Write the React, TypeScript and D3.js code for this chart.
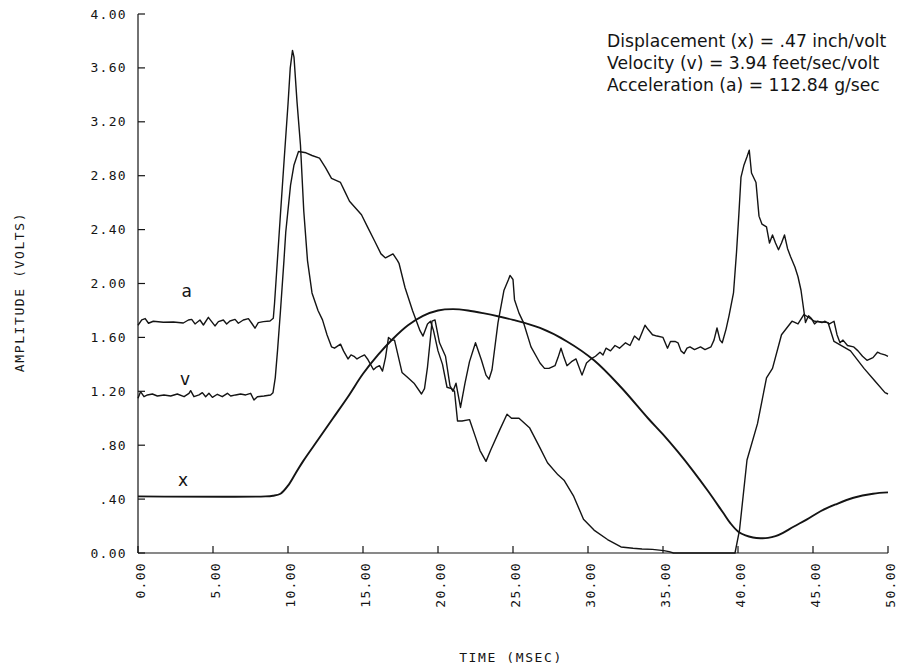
import React from 'react';
import * as d3 from 'd3';

const W = 897;
const H = 669;

// axis domains & ticks
const TIME_DOMAIN: [number, number] = [0, 50];
const VOLT_DOMAIN: [number, number] = [0, 4];
const TIME_TICKS = [0, 5, 10, 15, 20, 25, 30, 35, 40, 45, 50];
const TIME_TICK_LABELS = ['0.00', '5.00', '10.00', '15.00', '20.00', '25.00', '30.00', '35.00', '40.00', '45.00', '50.00'];
const VOLT_TICKS = [0, 0.4, 0.8, 1.2, 1.6, 2.0, 2.4, 2.8, 3.2, 3.6, 4.0];
const VOLT_TICK_LABELS = ['0.00', '.40', '.80', '1.20', '1.60', '2.00', '2.40', '2.80', '3.20', '3.60', '4.00'];

// acceleration trace (time msec, volts)
const accel: [number, number][] = [
  [0, 1.69], [0.25, 1.73], [0.48, 1.74], [0.7, 1.705], [1.02, 1.72], [1.69, 1.712], [2.36, 1.714], [3.02, 1.707],
  [3.36, 1.729], [3.58, 1.734], [3.8, 1.70], [4.13, 1.729], [4.36, 1.692], [4.69, 1.749], [4.91, 1.717], [5.13, 1.685],
  [5.36, 1.717], [5.69, 1.729], [5.91, 1.70], [6.13, 1.722], [6.47, 1.734], [6.69, 1.705], [7.02, 1.729], [7.36, 1.739],
  [7.58, 1.705], [7.8, 1.668], [8.02, 1.71], [8.36, 1.717], [8.8, 1.722], [9.02, 1.742],
  [9.1, 1.85], [9.25, 2.1], [9.5, 2.52], [9.75, 2.93], [10.0, 3.33], [10.15, 3.6], [10.3, 3.73], [10.4, 3.68],
  [10.6, 3.35], [10.83, 3.03], [11.05, 2.54], [11.3, 2.17], [11.6, 1.93], [12.0, 1.8], [12.3, 1.73], [12.6, 1.62],
  [12.9, 1.53], [13.1, 1.52], [13.5, 1.55], [13.7, 1.5], [14.0, 1.44], [14.2, 1.47], [14.4, 1.46], [14.6, 1.44],
  [14.9, 1.46], [15.1, 1.47], [15.3, 1.44], [15.7, 1.36], [15.9, 1.38], [16.1, 1.39], [16.3, 1.35], [16.5, 1.45],
  [16.7, 1.6], [16.9, 1.58], [17.1, 1.58], [17.6, 1.34], [18.0, 1.3], [18.4, 1.26], [18.9, 1.18], [19.1, 1.22],
  [19.3, 1.38], [19.5, 1.6], [19.6, 1.72], [19.8, 1.73], [20.1, 1.56], [20.5, 1.46], [20.8, 1.24], [21.0, 1.2],
  [21.2, 1.26], [21.5, 1.08], [21.8, 1.26], [22.1, 1.42], [22.5, 1.56], [22.9, 1.43], [23.2, 1.32], [23.4, 1.29],
  [23.6, 1.36], [24.0, 1.71], [24.4, 1.95], [24.7, 2.03], [24.8, 2.06], [25.0, 2.03], [25.1, 1.88], [25.4, 1.78],
  [25.7, 1.71], [26.2, 1.53], [26.8, 1.41], [27.1, 1.37], [27.4, 1.37], [27.8, 1.39], [28.0, 1.45], [28.2, 1.52],
  [28.4, 1.45], [28.6, 1.39], [28.9, 1.42], [29.2, 1.44], [29.6, 1.32], [29.9, 1.41], [30.2, 1.44], [30.5, 1.46],
  [30.8, 1.49], [31.0, 1.47], [31.2, 1.52], [31.5, 1.5], [31.8, 1.54], [32.1, 1.52], [32.5, 1.56], [32.8, 1.54],
  [33.1, 1.61], [33.4, 1.58], [33.8, 1.69], [34.0, 1.66], [34.3, 1.62], [34.6, 1.61], [35.0, 1.6], [35.3, 1.52],
  [35.5, 1.57], [35.8, 1.57], [36.0, 1.56], [36.2, 1.5], [36.4, 1.48], [36.6, 1.52], [36.8, 1.53], [37.1, 1.51],
  [37.5, 1.53], [37.8, 1.51], [38.2, 1.53], [38.4, 1.58], [38.6, 1.67], [38.8, 1.58], [38.95, 1.56], [39.2, 1.66],
  [39.4, 1.76], [39.7, 1.93], [39.9, 2.23], [40.05, 2.5], [40.2, 2.79], [40.4, 2.88], [40.6, 2.94], [40.75, 2.99],
  [40.9, 2.82], [41.2, 2.75], [41.4, 2.5], [41.6, 2.44], [41.9, 2.42], [42.1, 2.3], [42.3, 2.36], [42.5, 2.3],
  [42.7, 2.25], [42.9, 2.3], [43.1, 2.36], [43.3, 2.26], [43.5, 2.2], [43.8, 2.12], [44.0, 2.05], [44.2, 1.95],
  [44.5, 1.71], [44.7, 1.76], [44.9, 1.74], [45.1, 1.7], [45.3, 1.72], [45.6, 1.71], [45.8, 1.72], [46.1, 1.7],
  [46.4, 1.72], [46.6, 1.62], [46.8, 1.56], [47.0, 1.58], [47.3, 1.54], [47.7, 1.53], [48.0, 1.5], [48.3, 1.46],
  [48.6, 1.43], [49.0, 1.45], [49.3, 1.49], [49.5, 1.48], [49.8, 1.47], [50.0, 1.46],
];

// velocity trace (time msec, volts)
const veloc: [number, number][] = [
  [0, 1.148], [0.17, 1.197], [0.4, 1.16], [0.63, 1.173], [0.96, 1.18], [1.29, 1.165], [1.73, 1.173], [2.18, 1.165],
  [2.62, 1.18], [3.07, 1.16], [3.4, 1.185], [3.51, 1.205], [3.73, 1.16], [4.07, 1.173], [4.29, 1.19], [4.51, 1.16],
  [4.73, 1.185], [4.96, 1.155], [5.29, 1.178], [5.62, 1.16], [5.96, 1.185], [6.18, 1.165], [6.51, 1.173], [6.84, 1.18],
  [7.18, 1.173], [7.51, 1.185], [7.73, 1.135], [7.96, 1.16], [8.4, 1.165], [8.84, 1.173], [9.0, 1.19],
  [9.15, 1.3], [9.3, 1.5], [9.5, 1.8], [9.73, 2.17], [9.85, 2.38], [10.17, 2.73], [10.4, 2.88], [10.7, 2.98],
  [11.2, 2.97], [11.6, 2.95], [12.1, 2.93], [12.5, 2.86], [12.9, 2.78], [13.5, 2.75], [13.8, 2.68], [14.1, 2.61],
  [14.5, 2.56], [14.9, 2.51], [15.3, 2.42], [15.8, 2.31], [16.2, 2.22], [16.5, 2.19], [17.0, 2.22], [17.3, 2.17],
  [17.4, 2.15], [17.8, 1.97], [18.3, 1.8], [18.8, 1.65], [19.0, 1.61], [19.3, 1.7], [19.5, 1.72], [19.7, 1.65],
  [20.0, 1.5], [20.3, 1.4], [20.6, 1.23], [20.9, 1.22], [21.1, 1.2], [21.3, 0.98], [21.6, 0.98], [22.1, 0.99],
  [22.5, 0.86], [22.8, 0.76], [23.2, 0.68], [23.5, 0.76], [24.1, 0.91], [24.6, 1.03], [24.9, 1.0], [25.4, 1.0],
  [26.1, 0.93], [26.8, 0.78], [27.3, 0.67], [28.0, 0.58], [28.4, 0.54], [29.05, 0.42], [29.7, 0.25], [30.4, 0.17],
  [31.3, 0.1], [32.2, 0.045], [33.0, 0.035], [33.6, 0.03], [34.3, 0.027], [35.05, 0.018], [35.4, 0.01], [35.7, 0.0],
  [39.8, 0.0], [40.1, 0.17], [40.6, 0.69], [41.3, 0.96], [41.9, 1.3], [42.3, 1.37], [42.9, 1.62], [43.6, 1.72],
  [44.0, 1.7], [44.4, 1.77], [45.1, 1.72], [46.0, 1.71], [46.4, 1.57], [47.5, 1.5], [48.4, 1.37], [49.1, 1.28],
  [49.8, 1.19], [50.0, 1.18],
];

// displacement trace (time msec, volts)
const displ: [number, number][] = [
  [0, 0.42], [8.5, 0.42], [9.0, 0.425], [9.5, 0.44], [10.0, 0.5], [10.5, 0.59], [11.0, 0.68], [12.0, 0.84],
  [13.0, 1.0], [14.0, 1.16], [15.0, 1.33], [16.0, 1.47], [17.0, 1.59], [18.0, 1.69], [19.0, 1.76], [20.0, 1.8],
  [21.0, 1.81], [22.0, 1.8], [23.0, 1.78], [25.0, 1.73], [26.8, 1.67], [28.6, 1.57], [30.4, 1.43], [32.2, 1.23],
  [34.0, 1.0], [35.0, 0.88], [36.0, 0.75], [37.0, 0.61], [38.0, 0.46], [39.0, 0.3], [39.5, 0.22], [40.0, 0.16],
  [40.5, 0.13], [41.0, 0.115], [41.5, 0.11], [42.0, 0.112], [42.5, 0.125], [43.0, 0.15], [43.7, 0.195], [44.6, 0.25],
  [45.5, 0.31], [46.5, 0.36], [47.7, 0.41], [49.0, 0.44], [50.0, 0.45],
];

const SERIES_NAMES = ['a', 'v', 'x'];
const LABEL_TIMES = [3.25, 3.13, 3.0];
const LABEL_VOLTS = [1.9, 1.247, 0.497];

const NOTE_LINES = [
  'Displacement (x) = .47 inch/volt',
  'Velocity (v) = 3.94 feet/sec/volt',
  'Acceleration (a) = 112.84 g/sec',
];

const X_TITLE = 'TIME (MSEC)';
const Y_TITLE = 'AMPLITUDE (VOLTS)';

export default function App() {
  const x = d3.scaleLinear().domain(TIME_DOMAIN).range([138, 888]);
  const y = d3.scaleLinear().domain(VOLT_DOMAIN).range([553, 14]);

  const line = d3
    .line<[number, number]>()
    .x((d) => x(d[0]))
    .y((d) => y(d[1]))
    .curve(d3.curveLinear);
  const smooth = d3
    .line<[number, number]>()
    .x((d) => x(d[0]))
    .y((d) => y(d[1]))
    .curve(d3.curveCatmullRom.alpha(0.5));

  const ink = '#141414';
  const mono = '"DejaVu Sans Mono", monospace';
  const sans = '"DejaVu Sans", sans-serif';

  const traces = [accel, veloc, displ];

  return (
    <svg
      width={W}
      height={H}
      viewBox={`0 0 ${W} ${H}`}
      style={{ position: 'absolute', left: 0, top: 0, background: '#fff', display: 'block' }}
    >
      <rect x={0} y={0} width={W} height={H} fill="#fff" />
      {/* axes */}
      <line x1={x(0)} y1={y(4)} x2={x(0)} y2={y(0)} stroke={ink} strokeWidth={1.2} />
      <line x1={x(0)} y1={y(0)} x2={x(50)} y2={y(0)} stroke={ink} strokeWidth={1.2} />
      {VOLT_TICKS.map((v, i) => (
        <g key={'yt' + i}>
          <line x1={x(0)} x2={x(0) + 7} y1={y(v)} y2={y(v)} stroke={ink} strokeWidth={1.2} />
          <text
            x={127}
            y={y(v)}
            textAnchor="end"
            dominantBaseline="central"
            fontFamily={mono}
            fontSize={13}
            letterSpacing={1.3}
            fill={ink}
          >
            {VOLT_TICK_LABELS[i]}
          </text>
        </g>
      ))}
      {TIME_TICKS.map((t, i) => (
        <g key={'xt' + i}>
          <line x1={x(t)} x2={x(t)} y1={y(0)} y2={y(0) - 7} stroke={ink} strokeWidth={1.2} />
          <text
            transform={`translate(${x(t) + 2},${y(0) + 9}) rotate(-90)`}
            textAnchor="end"
            dominantBaseline="central"
            fontFamily={mono}
            fontSize={13}
            letterSpacing={1.3}
            fill={ink}
          >
            {TIME_TICK_LABELS[i]}
          </text>
        </g>
      ))}
      <text
        x={511}
        y={662}
        textAnchor="middle"
        fontFamily={mono}
        fontSize={13}
        letterSpacing={1.6}
        fill={ink}
      >
        {X_TITLE}
      </text>
      <text
        transform={`translate(19,292) rotate(-90)`}
        textAnchor="middle"
        dominantBaseline="central"
        fontFamily={mono}
        fontSize={13}
        letterSpacing={1.6}
        fill={ink}
      >
        {Y_TITLE}
      </text>

      {/* traces */}
      {traces.map((d, i) => (
        <path
          key={'tr' + i}
          d={(i === 2 ? smooth(d) : line(d)) || ''}
          fill="none"
          stroke={ink}
          strokeWidth={i === 2 ? 1.9 : 1.4}
          strokeLinejoin="round"
        />
      ))}

      {/* curve labels */}
      {SERIES_NAMES.map((s, i) => (
        <text
          key={'lb' + i}
          x={x(LABEL_TIMES[i])}
          y={y(LABEL_VOLTS[i])}
          textAnchor="middle"
          fontFamily={sans}
          fontSize={17}
          fill={ink}
        >
          {s}
        </text>
      ))}

      {/* annotation */}
      {NOTE_LINES.map((s, i) => (
        <text key={'nt' + i} x={607} y={47 + i * 22} fontFamily={sans} fontSize={17.2} fill={ink}>
          {s}
        </text>
      ))}
    </svg>
  );
}
